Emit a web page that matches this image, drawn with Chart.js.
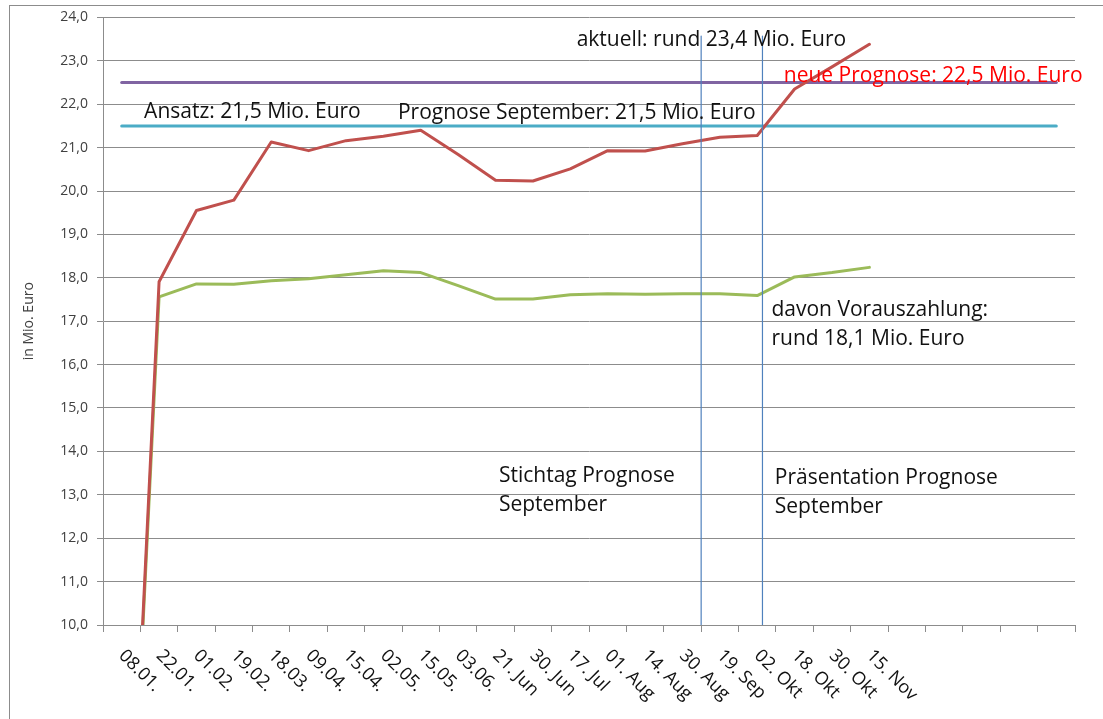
<!DOCTYPE html>
<html>
<head>
<meta charset="utf-8">
<script src="https://cdn.jsdelivr.net/npm/chart.js@4/dist/chart.umd.min.js"></script>
<style>
  html, body { margin: 0; padding: 0; background: #fff; }
  #wrap { position: relative; width: 1103px; height: 719px; }
  #frame {
    position: absolute; left: 9px; top: 5px; right: 0; bottom: 0;
    border-left: 1px solid #8c8c8c; border-top: 1px solid #8c8c8c;
    pointer-events: none;
  }
</style>
</head>
<body>
<div id="wrap">
  <canvas id="chart" width="1103" height="719"></canvas>
  <div id="frame"></div>
</div>
<script>
// dates on the x axis, the last five slots stay empty
const categories = [
  '08.01.', '22.01.', '01.02.', '19.02.', '18.03.', '09.04.', '15.04.', '02.05.',
  '15.05.', '03.06.', '21. Jun', '30. Jun', '17. Jul', '01. Aug', '14. Aug',
  '30. Aug', '19. Sep', '02. Okt', '18. Okt', '30. Okt', '15. Nov',
  '', '', '', '', ''
];

// Gewerbesteuer gesamt (red) and Vorauszahlung (green), in Mio. Euro
const totalValues = [
  0, 17.91, 19.55, 19.79, 21.13, 20.93, 21.16, 21.26, 21.40, 20.84, 20.25,
  20.23, 20.51, 20.93, 20.92, 21.09, 21.24, 21.28, 22.35, 22.86, 23.38
];
const prepaymentValues = [
  0, 17.56, 17.86, 17.85, 17.93, 17.98, 18.07, 18.16, 18.12, 17.82, 17.51,
  17.51, 17.61, 17.63, 17.62, 17.63, 17.63, 17.59, 18.02, 18.12, 18.24
];
const newForecast = [
  22.5, 22.5, 22.5, 22.5, 22.5, 22.5, 22.5, 22.5, 22.5, 22.5, 22.5, 22.5, 22.5,
  22.5, 22.5, 22.5, 22.5, 22.5, 22.5, 22.5, 22.5, 22.5, 22.5, 22.5, 22.5, 22.5
];
const baseForecast = [
  21.5, 21.5, 21.5, 21.5, 21.5, 21.5, 21.5, 21.5, 21.5, 21.5, 21.5, 21.5, 21.5,
  21.5, 21.5, 21.5, 21.5, 21.5, 21.5, 21.5, 21.5, 21.5, 21.5, 21.5, 21.5, 21.5
];

// vertical markers (category position) and their top value
const markerPositions = [15.5, 17.14];
const markerTop = 23.57;

// text boxes: [text, category position, value, colour]
const notes = [
  ['Ansatz: 21,5 Mio. Euro', 0.6, 21.82, '#111'],
  ['Prognose September: 21,5 Mio. Euro', 7.39, 21.79, '#111'],
  ['aktuell: rund 23,4 Mio. Euro', 12.17, 23.48, '#111'],
  ['neue Prognose: 22,5 Mio. Euro', 17.71, 22.65, '#ff0000'],
  ['davon Vorauszahlung:', 17.38, 17.25, '#111'],
  ['rund 18,1 Mio. Euro', 17.38, 16.58, '#111'],
  ['Stichtag Prognose', 10.09, 13.44, '#111'],
  ['September', 10.09, 12.77, '#111'],
  ['Präsentation Prognose', 17.47, 13.39, '#111'],
  ['September', 17.47, 12.71, '#111']
];

const FONT = "'Open Sans', 'Noto Sans', sans-serif";
const GRID = '#8c8c8c';

const extrasPlugin = {
  id: 'extras',
  afterDraw(chart) {
    const ctx = chart.ctx;
    const x = chart.scales.x;
    const xm = chart.scales.xm;
    const y = chart.scales.y;

    // rotated date labels (reading downwards)
    ctx.save();
    ctx.fillStyle = '#111';
    ctx.font = '18px ' + FONT;
    ctx.textAlign = 'left';
    ctx.textBaseline = 'middle';
    categories.forEach((label, i) => {
      if (!label) return;
      ctx.save();
      ctx.translate(x.getPixelForValue(i), chart.chartArea.bottom + 28);
      ctx.rotate(Math.PI / 4);
      ctx.fillText(label, 0, 0);
      ctx.restore();
    });
    ctx.restore();

    // text boxes
    ctx.save();
    ctx.font = '21px ' + FONT;
    ctx.textAlign = 'left';
    ctx.textBaseline = 'middle';
    notes.forEach(n => {
      ctx.fillStyle = n[3];
      ctx.fillText(n[0], xm.getPixelForValue(n[1]), y.getPixelForValue(n[2]));
    });
    ctx.restore();
  }
};

const markerSets = markerPositions.map(p => ({
  type: 'line',
  xAxisID: 'xm',
  data: [{ x: p, y: markerTop }, { x: p, y: 10 }],
  borderColor: '#4f81bd',
  borderWidth: 1.2,
  pointRadius: 0
}));

const ctx = document.getElementById('chart').getContext('2d');
new Chart(ctx, {
  type: 'line',
  data: {
    labels: categories,
    datasets: [
      ...markerSets,
      { data: totalValues, borderColor: '#c0504d', borderWidth: 3 },
      { data: prepaymentValues, borderColor: '#9bbb59', borderWidth: 3 },
      { data: newForecast, borderColor: '#8064a2', borderWidth: 3 },
      { data: baseForecast, borderColor: '#4bacc6', borderWidth: 3 }
    ]
  },
  options: {
    responsive: false,
    animation: false,
    layout: { padding: { left: 0, top: 17, right: 28, bottom: 0 } },
    elements: {
      line: { tension: 0, borderCapStyle: 'round', borderJoinStyle: 'round' },
      point: { radius: 0 }
    },
    plugins: {
      legend: { display: false },
      tooltip: { enabled: false }
    },
    scales: {
      x: {
        type: 'category',
        offset: true,
        grid: { drawOnChartArea: false, drawTicks: true, tickLength: 7, color: GRID, offset: true },
        border: { color: GRID },
        ticks: { display: false, autoSkip: false },
        afterFit(scale) { scale.height = 94; }
      },
      xm: {
        type: 'linear',
        display: false,
        min: -0.5,
        max: 25.5
      },
      y: {
        min: 10,
        max: 24,
        ticks: {
          stepSize: 1,
          padding: 9,
          color: '#404040',
          font: { family: FONT, size: 14 },
          callback: v => v.toFixed(1).replace('.', ',')
        },
        grid: { color: GRID, tickLength: 6 },
        border: { color: GRID },
        title: {
          display: true,
          text: 'in Mio. Euro',
          color: '#404040',
          font: { family: FONT, size: 14 },
          padding: { top: 21, bottom: 0 }
        },
        afterFit(scale) { scale.width = 103; }
      }
    }
  },
  plugins: [extrasPlugin]
});
</script>
</body>
</html>
